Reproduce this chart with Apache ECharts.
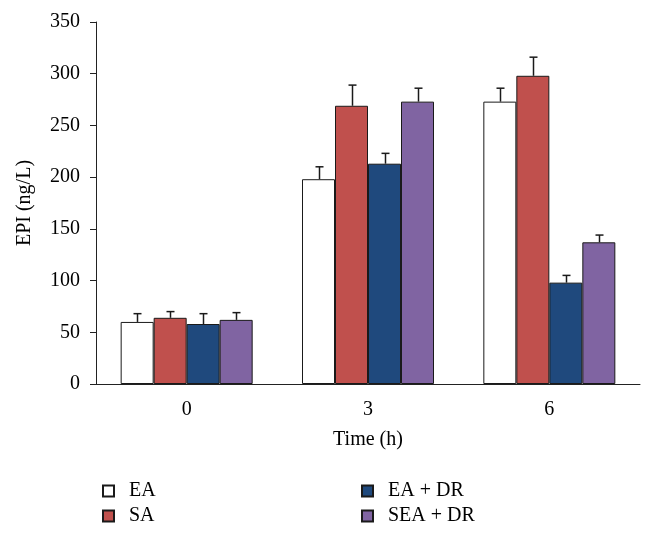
<!DOCTYPE html>
<html>
<head>
<meta charset="utf-8">
<script src="https://cdn.jsdelivr.net/npm/echarts@6/dist/echarts.min.js"></script>
<style>html,body{margin:0;padding:0;background:#fff}#c{width:654px;height:534px}</style>
</head>
<body>
<div id="c"></div>
<script>
var categories = ['0', '3', '6'];
var seriesNames = ['EA', 'SA', 'EA + DR', 'SEA + DR'];
var eaValues = [60, 198, 273];
var saValues = [64, 269, 298];
var eaDrValues = [58, 213, 98];
var seaDrValues = [62, 273, 137];
var eaErr = [8, 12, 13];
var saErr = [6, 20, 18];
var eaDrErr = [10, 10, 7];
var seaDrErr = [7, 13, 7];
var yTicks = [0, 50, 100, 150, 200, 250, 300, 350];

var colors = ['#ffffff', '#C0504D', '#1F497D', '#8064A2'];
var values = [eaValues, saValues, eaDrValues, seaDrValues];
var errs = [eaErr, saErr, eaDrErr, seaDrErr];
var FONT = "'Liberation Serif', 'Times New Roman', serif";
var BAR_W = 33;

var series = [];
values.forEach(function (vals, i) {
  series.push({
    name: seriesNames[i],
    type: 'bar',
    data: vals,
    barWidth: BAR_W,
    barGap: '0%',
    itemStyle: { color: colors[i], borderColor: '#1a1a1a', borderWidth: 1 },
    emphasis: { disabled: true }
  });
});
values.forEach(function (vals, i) {
  series.push({
    name: seriesNames[i] + ' error',
    type: 'custom',
    data: vals.map(function (v, k) { return [k, v, v + errs[i][k]]; }),
    z: 3,
    renderItem: function (params, api) {
      var c = api.value(0);
      var off = (i - 1.5) * BAR_W;
      var p1 = api.coord([c, api.value(1)]);
      var p2 = api.coord([c, api.value(2)]);
      var x = Math.round(p1[0] + off) + 0.5;
      var st = { stroke: '#1a1a1a', lineWidth: 1.5 };
      return {
        type: 'group',
        children: [
          { type: 'line', shape: { x1: x, y1: p1[1], x2: x, y2: p2[1] }, style: st },
          { type: 'line', shape: { x1: x - 4, y1: p2[1], x2: x + 4, y2: p2[1] }, style: st }
        ]
      };
    }
  });
});

var legendText = { fontFamily: FONT, fontSize: 20, color: '#000', padding: [0, 0, 0, 10], lineHeight: 20 };
var chart = echarts.init(document.getElementById('c'));
chart.setOption({
  animation: false,
  backgroundColor: '#fff',
  grid: { left: 96, right: 14, top: 22, bottom: 150, containLabel: false },
  legend: [
    { data: ['EA', 'SA'], orient: 'vertical', left: 97, top: 476, icon: 'rect', itemWidth: 11, itemHeight: 11, itemGap: 5, textStyle: legendText, selectedMode: false },
    { data: ['EA + DR', 'SEA + DR'], orient: 'vertical', left: 356, top: 476, icon: 'rect', itemWidth: 11, itemHeight: 11, itemGap: 5, textStyle: legendText, selectedMode: false }
  ],
  xAxis: {
    type: 'category',
    data: categories,
    name: 'Time (h)',
    nameLocation: 'middle',
    nameGap: 46,
    nameTextStyle: { fontFamily: FONT, fontSize: 20, color: '#000' },
    axisLine: { lineStyle: { color: '#222', width: 1 } },
    axisTick: { length: 6, lineStyle: { color: '#222' } },
    axisLabel: { fontFamily: FONT, fontSize: 20, color: '#000', margin: 16 }
  },
  yAxis: {
    type: 'value',
    min: yTicks[0],
    max: yTicks[yTicks.length - 1],
    interval: 50,
    name: 'EPI (ng/L)',
    nameLocation: 'middle',
    nameGap: 61,
    nameTextStyle: { fontFamily: FONT, fontSize: 20, color: '#000' },
    axisLine: { show: true, lineStyle: { color: '#222', width: 1 } },
    axisTick: { show: true, length: 6, lineStyle: { color: '#222' } },
    axisLabel: { fontFamily: FONT, fontSize: 20, color: '#000', margin: 16 },
    splitLine: { show: false }
  },
  series: series
});
</script>
</body>
</html>
